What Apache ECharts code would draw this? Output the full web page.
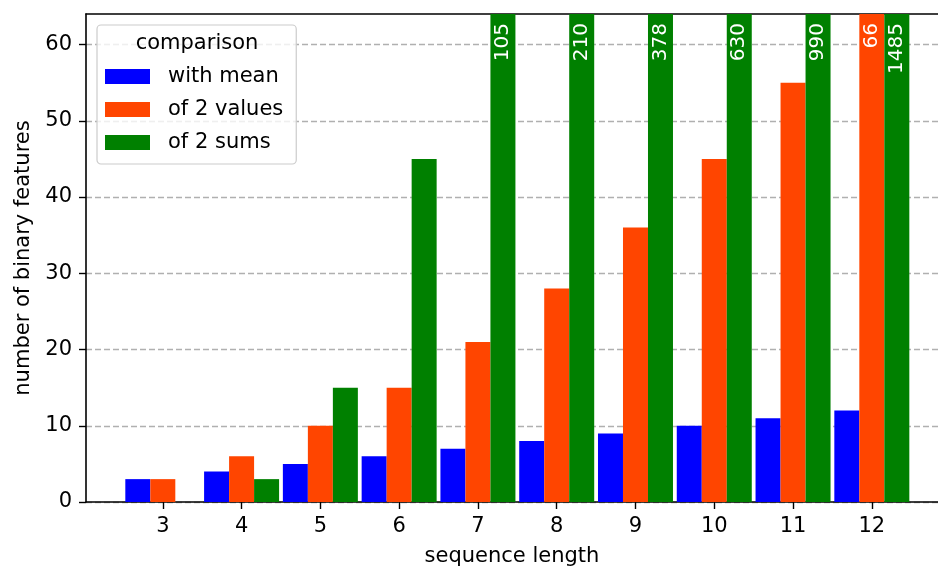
<!DOCTYPE html>
<html>
<head>
<meta charset="utf-8">
<script src="https://cdn.jsdelivr.net/npm/echarts@6/dist/echarts.min.js"></script>
<style>html,body{margin:0;padding:0;background:#fff;}#c{width:938px;height:572px;}</style>
</head>
<body>
<div id="c"></div>
<script>
const seqLength = [3, 4, 5, 6, 7, 8, 9, 10, 11, 12];
const withMean = [3, 4, 5, 6, 7, 8, 9, 10, 11, 12];
const of2Values = [3, 6, 10, 15, 21, 28, 36, 45, 55, 66];
const of2Sums = [0, 3, 15, 45, 105, 210, 378, 630, 990, 1485];
const yTicks = [0, 10, 20, 30, 40, 50, 60];
const Y_MAX = 64;

const FONT = 'DejaVu Sans';
const chart = echarts.init(document.getElementById('c'), null, {renderer: 'canvas'});

function pairs(vals) { return seqLength.map((x, i) => [x, vals[i]]); }

const barLabel = {
  show: true,
  position: 'insideTop',
  distance: 9,
  rotate: 90,
  align: 'right',
  verticalAlign: 'middle',
  color: '#ffffff',
  fontFamily: FONT,
  fontSize: 20,
  formatter: p => (p.value[1] > Y_MAX ? String(p.value[1]) : '')
};

function barSeries(name, vals, color) {
  return {
    type: 'bar', name: name, data: pairs(vals),
    xAxisIndex: 0, yAxisIndex: 0,
    barWidth: 25, barGap: '0%', clip: true,
    itemStyle: {color: color, borderWidth: 0},
    label: barLabel,
    emphasis: {disabled: true}
  };
}

chart.setOption({
  animation: false,
  textStyle: {fontFamily: FONT},
  grid: {left: 86, right: 0, top: 14, bottom: 68, show: false},
  graphic: [{
    type: 'text', z: 100,
    style: {text: 'comparison', x: 197, y: 44, align: 'center', verticalAlign: 'middle', fontFamily: FONT, fontSize: 21, fill: '#000'}
  }],
  legend: {
    orient: 'vertical', left: 97, top: 25,
    padding: [41, 13, 11, 8],
    backgroundColor: 'rgba(255,255,255,0.8)',
    borderColor: '#cccccc', borderWidth: 1.2, borderRadius: 4,
    itemWidth: 45, itemHeight: 15, itemGap: 12, icon: 'rect',
    textStyle: {fontFamily: FONT, fontSize: 21, lineHeight: 21, color: '#000', padding: [0, 0, 0, 13]},
    data: ['with mean', 'of 2 values', 'of 2 sums']
  },
  xAxis: [{
    type: 'value', min: 2.025, max: 12.84,
    name: 'sequence length', nameLocation: 'middle', nameGap: 44,
    nameTextStyle: {fontFamily: FONT, fontSize: 21, color: '#000'},
    axisLine: {show: true, lineStyle: {color: '#000', width: 1.6}},
    axisTick: {show: true, customValues: seqLength, length: 7, lineStyle: {color: '#000', width: 1.4}},
    axisLabel: {customValues: seqLength, margin: 14, fontFamily: FONT, fontSize: 21, color: '#000'},
    splitLine: {show: false}
  }, {
    type: 'value', position: 'top', min: 2.025, max: 12.84,
    axisLine: {show: true, onZero: false, lineStyle: {color: '#000', width: 1.6}},
    axisTick: {show: false}, axisLabel: {show: false}, splitLine: {show: false}
  }],
  yAxis: {
    type: 'value', min: 0, max: Y_MAX, interval: 10,
    name: 'number of binary features', nameLocation: 'middle', nameGap: 52,
    nameTextStyle: {fontFamily: FONT, fontSize: 21, color: '#000'},
    axisLine: {show: true, lineStyle: {color: '#000', width: 1.6}},
    axisTick: {show: true, customValues: yTicks, length: 7, lineStyle: {color: '#000', width: 1.4}},
    axisLabel: {customValues: yTicks, margin: 14, fontFamily: FONT, fontSize: 21, color: '#000'},
    splitLine: {show: true, lineStyle: {color: '#b0b0b0', width: 1.4, type: [6, 3]}}
  },
  series: [
    barSeries('with mean', withMean, '#0000ff'),
    barSeries('of 2 values', of2Values, '#ff4500'),
    barSeries('of 2 sums', of2Sums, '#008000')
  ]
});
</script>
</body>
</html>
